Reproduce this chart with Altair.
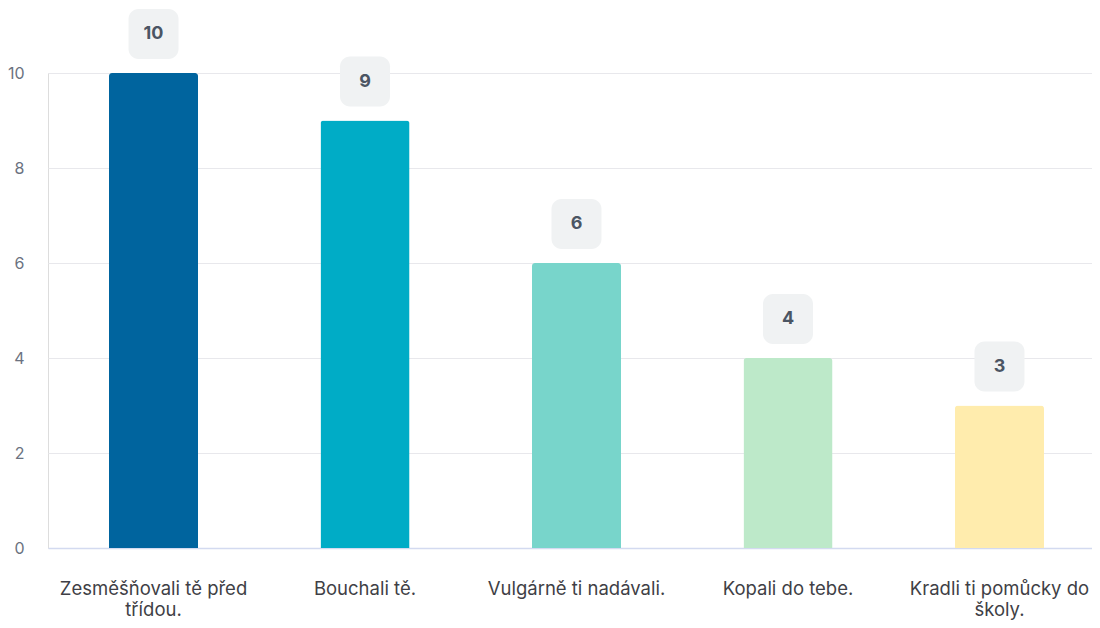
import altair as alt
import pandas as pd

categories = [
    "Zesměšňovali tě před\ntřídou.",
    "Bouchali tě.",
    "Vulgárně ti nadávali.",
    "Kopali do tebe.",
    "Kradli ti pomůcky do\nškoly.",
]
values = [10, 9, 6, 4, 3]
colors = ["#00649e", "#00acc6", "#78d5cb", "#bde9c9", "#ffecad"]

df = pd.DataFrame({"cat": categories, "value": values, "color": colors})

xscale = alt.Scale(paddingInner=0.579, paddingOuter=0.2577, align=0.5596)

x = alt.X(
    "cat:N",
    sort=None,
    scale=xscale,
    axis=alt.Axis(
        title=None,
        labelAngle=0,
        labelExpr="split(datum.label, '\\n')",
        labelFontSize=18.5,
        labelColor="#3f3f46",
        labelFont="Inter",
        labelPadding=31,
        labelLineHeight=21,
        labelBaseline="top",
        ticks=False,
        domainColor="#d3daf0",
        domainWidth=1.5,
        labelLimit=300,
    ),
)
y = alt.Y(
    "value:Q",
    scale=alt.Scale(domain=[0, 10], nice=False),
    axis=alt.Axis(
        title=None,
        values=[0, 2, 4, 6, 8, 10],
        ticks=False,
        domain=False,
        labelFontSize=16,
        labelColor="#6b7280",
        labelFont="Inter",
        labelPadding=24,
        gridColor="#e8e8ec",
    ),
)

bars = alt.Chart(df).mark_bar(cornerRadiusTopLeft=3, cornerRadiusTopRight=3).encode(
    x=x,
    y=y,
    color=alt.Color("color:N", scale=None),
)

badges = alt.Chart(df).mark_bar(
    size=50, cornerRadius=10, color="#f0f2f3", yOffset=-64, y2Offset=-14, clip=False
).encode(
    x=alt.X("cat:N", sort=None, scale=xscale),
    y="value:Q",
    y2="value:Q",
)

texts = alt.Chart(df).mark_text(
    font="Inter", fontSize=18, fontWeight="bold", color="#4b5563", dy=-39, baseline="middle"
).encode(
    x=alt.X("cat:N", sort=None, scale=xscale),
    y="value:Q",
    text="value:Q",
)

chart = (
    alt.layer(bars, badges, texts)
    .properties(
        width=1044,
        height=475,
        autosize=alt.AutoSizeParams(type="none"),
        padding={"left": 40, "top": 65, "right": 0, "bottom": 72},
    )
    .configure_view(stroke=None)
    .configure(background="white")
)

chart.save("out.html", embed_options={"renderer": "svg", "actions": False})
